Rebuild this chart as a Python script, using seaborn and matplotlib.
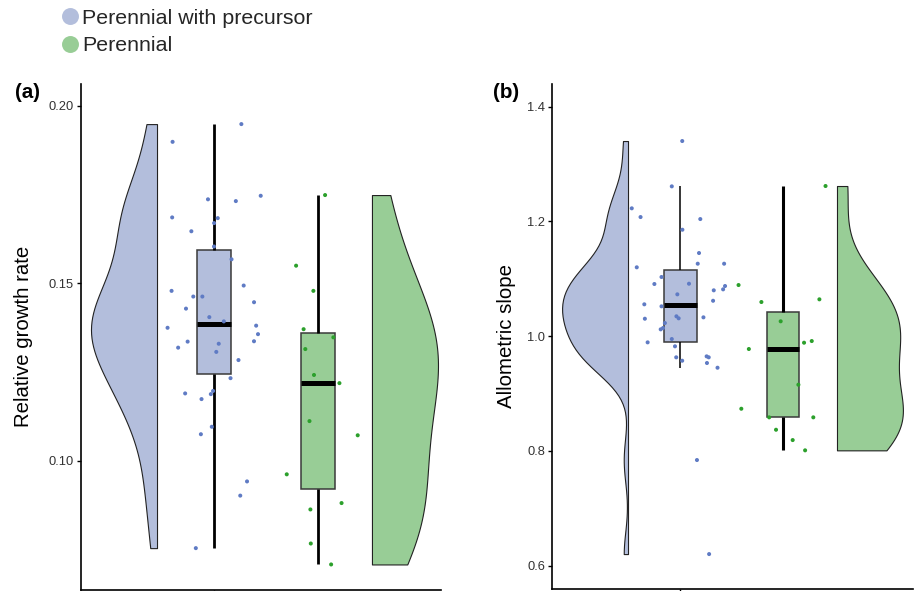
import numpy as np
import pandas as pd
import matplotlib
matplotlib.use("Agg")
import matplotlib.pyplot as plt
import seaborn as sns
from matplotlib.lines import Line2D

# ---------------- data ----------------
groups = ["Perennial with precursor", "Perennial"]

rgr_pwp = [0.1899, 0.1949, 0.1737, 0.1732, 0.1747, 0.1684, 0.1670, 0.1686, 0.1647, 0.1604,
           0.1568, 0.1494, 0.1463, 0.1479, 0.1463, 0.1447, 0.1429, 0.1405, 0.1381, 0.1375,
           0.1393, 0.1357, 0.1336, 0.1330, 0.1337, 0.1319, 0.1307, 0.1284, 0.1233, 0.1188,
           0.1190, 0.1197, 0.1174, 0.1096, 0.1075, 0.0942, 0.0902, 0.0754]
rgr_per = [0.1749, 0.1550, 0.1479, 0.1371, 0.1348, 0.1315, 0.1242, 0.1219, 0.1112, 0.1072,
           0.0962, 0.0881, 0.0863, 0.0767, 0.0708]

slope_pwp = [1.3402, 1.2612, 1.2229, 1.2077, 1.2042, 1.1856, 1.1450, 1.1264, 1.1264, 1.1201,
             1.1032, 1.0915, 1.0910, 1.0875, 1.0817, 1.0800, 1.0730, 1.0618, 1.0556, 1.0521,
             1.0347, 1.0329, 1.0312, 1.0305, 1.0230, 1.0143, 1.0120, 0.9893, 0.9951, 0.9824,
             0.9649, 0.9632, 0.9573, 0.9632, 0.9533, 0.9451, 0.7842, 0.6203]
slope_per = [1.2618, 1.0892, 1.0643, 1.0596, 1.0260, 0.9916, 0.9887, 0.9777, 0.9155, 0.8736,
             0.8586, 0.8586, 0.8370, 0.8190, 0.8011]

y_labels = ["Relative growth rate", "Allometric slope"]
panel_tags = ["(a)", "(b)"]
yticks_a = [0.10, 0.15, 0.20]
yticks_b = [0.6, 0.8, 1.0, 1.2, 1.4]
ytick_labels_a = ["0.10", "0.15", "0.20"]
ytick_labels_b = ["0.6", "0.8", "1.0", "1.2", "1.4"]

# ---------------- styles / layout ----------------
FILL = {groups[0]: "#b3bedc", groups[1]: "#98cd96"}
DOT = {groups[0]: "#5f7bc4", groups[1]: "#2ca02c"}
BOX_POS = {groups[0]: 1.0, groups[1]: 2.0}
SIDE = {groups[0]: -1, groups[1]: 1}   # half-violin opens to the left / right

panels = [
    dict(values={groups[0]: rgr_pwp, groups[1]: rgr_per},
         rect=[81 / 916, 1 / 591, 360 / 916, 506 / 591],
         ylim=(0.0636, 0.2062), xlim=(-0.279, 3.183),
         flat_pos={groups[0]: 0.452, groups[1]: 2.519}, half=0.635,
         yticks=yticks_a, yticklabels=ytick_labels_a,
         whisk_lw={groups[0]: 2.0, groups[1]: 2.0},
         ylabel=y_labels[0], tag=panel_tags[0],
         ylabel_x=23.5, tag_x=28),
    dict(values={groups[0]: slope_pwp, groups[1]: slope_per},
         rect=[552 / 916, 2.5 / 591, 361 / 916, 504.5 / 591],
         ylim=(0.5603, 1.4396), xlim=(-0.243, 3.262),
         flat_pos={groups[0]: 0.495, groups[1]: 2.524}, half=0.64,
         yticks=yticks_b, yticklabels=ytick_labels_b,
         whisk_lw={groups[0]: 1.1, groups[1]: 2.2},
         ylabel=y_labels[1], tag=panel_tags[1],
         ylabel_x=506, tag_x=506),
]

sns.set_theme(style="ticks")
plt.rcParams["font.family"] = ["Liberation Sans", "DejaVu Sans"]

fig = plt.figure(figsize=(9.16, 5.91), dpi=100)
np.random.seed(7)

for p in panels:
    ax = fig.add_axes(p["rect"])
    H = p["half"]
    rows = []
    for g in groups:
        for v in p["values"][g]:
            rows.append(dict(group=g, value=v, box_pos=BOX_POS[g],
                             vio_pos=p["flat_pos"][g] + SIDE[g] * H / 2))
    df = pd.DataFrame(rows)

    for g in groups:
        sub = df[df["group"] == g]
        vals = sub["value"].to_numpy()
        sd = vals.std(ddof=1)
        q75, q25 = np.percentile(vals, [75, 25])
        bw = 0.9 * min(sd, (q75 - q25) / 1.34) * len(vals) ** (-0.2)
        sns.violinplot(data=sub, x="vio_pos", y="value", hue="group", hue_order=groups,
                       palette=FILL, split=True, native_scale=True, inner=None, cut=0,
                       density_norm="width", width=H, bw_method=bw / sd,
                       linewidth=0.8, linecolor="#222222", saturation=1, dodge=False,
                       orient="x", legend=False, ax=ax)
        sns.boxplot(data=sub, x="box_pos", y="value", hue="group", hue_order=groups,
                    palette=FILL, native_scale=True, width=0.32, showfliers=False,
                    showcaps=False, saturation=1, dodge=False, orient="x", legend=False,
                    linewidth=1.1, linecolor="#3a3a3a",
                    medianprops=dict(color="black", linewidth=3.6),
                    whiskerprops=dict(color="black", linewidth=p["whisk_lw"][g]),
                    ax=ax)
        sns.stripplot(data=sub, x="box_pos", y="value", hue="group", hue_order=groups,
                      palette=DOT, native_scale=True, jitter=0.47, size=2.9, linewidth=0,
                      dodge=False, orient="x", legend=False, zorder=3, ax=ax)

    ax.set_xlim(*p["xlim"])
    ax.set_ylim(*p["ylim"])
    ax.set_yticks(p["yticks"])
    ax.set_yticklabels(p["yticklabels"])
    ax.set_xticks([BOX_POS[groups[0]]])
    ax.set_xticklabels([""])
    ax.set_xlabel("")
    ax.set_ylabel("")
    ax.tick_params(axis="both", length=3, width=1.0, color="black", labelsize=9.3,
                   labelcolor="#333333", pad=2)
    for s in ["top", "right"]:
        ax.spines[s].set_visible(False)
    for s in ["left", "bottom"]:
        ax.spines[s].set_linewidth(1.2)
        ax.spines[s].set_color("black")
    ax.set_facecolor("none")

    fig.text(p["ylabel_x"] / 916, 1 - 336 / 591, p["ylabel"], rotation=90,
             ha="center", va="center", fontsize=14.7, color="black")
    fig.text(p["tag_x"] / 916, 1 - 93 / 591, p["tag"], ha="center", va="center",
             fontsize=14.9, fontweight="bold", color="black")

handles = [Line2D([0], [0], marker="o", linestyle="", markersize=12.2,
                  markerfacecolor=FILL[g], markeredgecolor="none") for g in groups]
fig.legend(handles, groups, loc="upper left", bbox_to_anchor=(61.5 / 916, 1 - 8.7 / 591),
           frameon=False, fontsize=15.4, handlelength=0.8, handletextpad=0.15,
           labelspacing=0.4, borderpad=0, borderaxespad=0)

fig.savefig("out.png", dpi=100)
